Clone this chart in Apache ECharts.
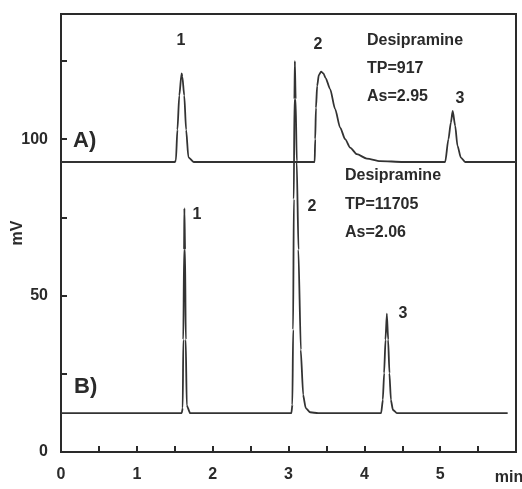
<!DOCTYPE html>
<html><head><meta charset="utf-8">
<script src="https://cdn.jsdelivr.net/npm/echarts@6/dist/echarts.min.js"></script>
<style>html,body{margin:0;padding:0;background:#fff}#c{width:522px;height:489px}</style>
</head><body><div id="c"></div>
<script>
// Trace A) (upper chromatogram): retention time (min) and signal (mV)
var timesA = [0, 1.50, 1.515, 1.535, 1.56, 1.59, 1.60, 1.625, 1.65, 1.68, 1.75,
  3.345, 3.352, 3.362, 3.378, 3.40, 3.43, 3.46, 3.49, 3.549, 3.615, 3.681, 3.747, 3.813, 3.901, 4.033, 4.208, 4.512,
  5.066, 5.109, 5.141, 5.165, 5.198, 5.228, 5.273, 5.33, 6];
var signalA = [92.7, 92.7, 93.2, 103, 114, 121, 120, 114, 103, 94.2, 92.7,
  92.7, 100, 110, 117, 120.5, 121.6, 121, 119.5, 116, 109.6, 103.7, 100, 97.3, 95.2, 93.8, 93.0, 92.7,
  92.7, 100, 105.3, 109, 104.3, 97.9, 94.1, 92.7, 92.7];
// Trace B) (lower chromatogram)
var timesB = [0, 1.592, 1.605, 1.613, 1.623, 1.627, 1.636, 1.645, 1.658, 1.702,
  3.038, 3.051, 3.061, 3.070, 3.078, 3.084, 3.094, 3.109, 3.131, 3.162, 3.193, 3.226, 3.285, 3.39,
  4.222, 4.244, 4.261, 4.279, 4.297, 4.314, 4.331, 4.350, 4.376, 4.429, 5.89];
var signalB = [12.4, 12.4, 14.1, 35.9, 64.7, 77.9, 64.7, 35.9, 15, 12.4,
  12.4, 15.1, 39.1, 80.8, 112.8, 124.9, 112.8, 92.9, 64.7, 32.7, 18.3, 14.1, 12.7, 12.4,
  12.4, 16.7, 25.2, 35.9, 44.2, 35.9, 25.2, 16.7, 13.5, 12.4, 12.4];
// Axis tick labels
var xTickLabels = {0: '0', 1: '1', 2: '2', 3: '3', 4: '4', 5: '5'};
var yTickLabels = {0: '0', 50: '50', 100: '100'};
var xUnit = 'min';
var yUnit = 'mV';

function pairs(xs, ys) { return xs.map(function (x, i) { return [x, ys[i]]; }); }

var FONT = '"Liberation Sans", Arial, sans-serif';
var INK = '#2a2a2a';
var chart = echarts.init(document.getElementById('c'), null, {renderer: 'canvas'});

function txt(x, y, s, size, align, rot) {
  return {type: 'text', x: x, y: y, rotation: rot || 0, style: {text: s, fill: INK, font: 'bold ' + (size || 16) + 'px ' + FONT,
    textAlign: align || 'left', textVerticalAlign: 'middle'}};
}

chart.setOption({
  backgroundColor: '#ffffff',
  animation: false,
  grid: {left: 61, right: 6, top: 14, bottom: 37, show: true, borderColor: INK, borderWidth: 2,
    containLabel: false, outerBoundsMode: 'none'},
  xAxis: {
    type: 'value', min: 0, max: 6, interval: 0.5,
    axisLine: {show: true, onZero: false, lineStyle: {color: INK, width: 2}},
    axisTick: {show: true, inside: true, length: 6, lineStyle: {color: INK, width: 2}},
    splitLine: {show: false},
    axisLabel: {margin: 15, color: INK, fontFamily: FONT, fontWeight: 'bold', fontSize: 16,
      showMaxLabel: true, showMinLabel: true, hideOverlap: false,
      formatter: function (v) { var k = Math.round(v * 10) / 10; return xTickLabels[k] !== undefined ? xTickLabels[k] : ''; }}
  },
  yAxis: {
    type: 'value', min: 0, max: 140, interval: 25,
    axisLine: {show: true, onZero: false, lineStyle: {color: INK, width: 2}},
    axisTick: {show: true, inside: true, length: 6, lineStyle: {color: INK, width: 2}},
    splitLine: {show: false},
    axisLabel: {margin: 13, color: INK, fontFamily: FONT, fontWeight: 'bold', fontSize: 16,
      showMaxLabel: false,
      formatter: function (v) { return yTickLabels[v] !== undefined ? yTickLabels[v] : ''; }}
  },
  series: [
    {type: 'line', data: pairs(timesA, signalA), showSymbol: false, smooth: 0.25, smoothMonotone: 'x',
      lineStyle: {color: '#333', width: 1.8}, silent: true},
    {type: 'line', data: pairs(timesB, signalB), showSymbol: false, smooth: 0.15, smoothMonotone: 'x',
      lineStyle: {color: '#333', width: 1.8}, silent: true}
  ],
  graphic: [
    txt(18, 233, yUnit, 16, 'center', Math.PI / 2),
    txt(509, 478, xUnit, 16, 'center'),
    txt(181, 41, '1', 16, 'center'),
    txt(318, 45, '2', 16, 'center'),
    txt(367, 41, 'Desipramine'),
    txt(367, 69, 'TP=917'),
    txt(367, 97, 'As=2.95'),
    txt(460, 99, '3', 16, 'center'),
    txt(73, 141, 'A)', 22),
    txt(345, 176, 'Desipramine'),
    txt(345, 205, 'TP=11705'),
    txt(345, 233, 'As=2.06'),
    txt(312, 207, '2', 16, 'center'),
    txt(197, 215, '1', 16, 'center'),
    txt(403, 314, '3', 16, 'center'),
    txt(74, 387, 'B)', 22)
  ]
});
</script></body></html>
